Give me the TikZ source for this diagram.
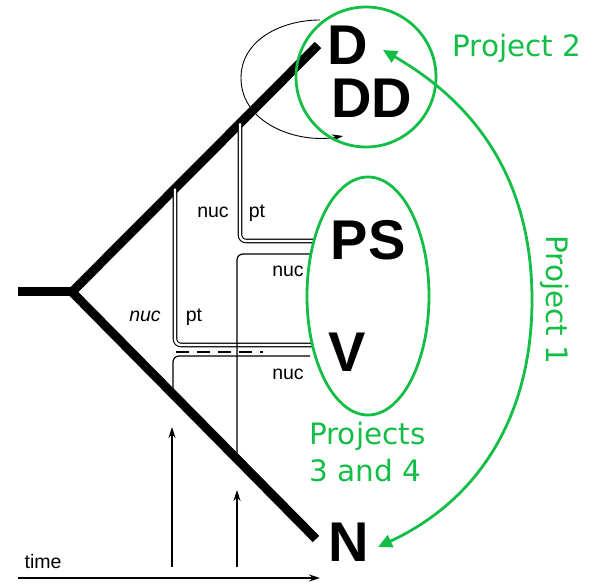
\documentclass[tikz,border=0pt]{standalone}
\usepackage{fontspec}
\setmainfont{Liberation Sans}
\newfontfamily\projfont{DejaVu Sans}
\usetikzlibrary{positioning, arrows.meta, calc}
\definecolor{projgreen}{RGB}{20,190,70}

\begin{document}
\begin{tikzpicture}[x=1pt, y=1pt, >={Stealth[length=11pt, width=7pt]},
    branch/.style={line width=9pt, line join=miter},
    tube/.style={double, double distance=2.4pt, line width=1.1pt, rounded corners=6pt},
    lineage/.style={line width=1.2pt, rounded corners=6pt},
    cell/.style={font=\fontsize{56}{56}\selectfont\bfseries, anchor=base, inner sep=0pt},
    lbl/.style={font=\fontsize{19.5}{20}\selectfont, anchor=base, inner sep=0pt},
    proj/.style={text=projgreen, font=\projfont\fontsize{29.5}{37}\selectfont, inner sep=0pt},
    ring/.style={draw=projgreen, line width=2.8pt}]
  \useasboundingbox (0,0) rectangle (595,587);
  % the two branches
  \coordinate (st) at (18,295);
  \coordinate (root) at (72,295);
  \coordinate (ue) at (318,542);
  \coordinate (le) at (316,48);
  \draw[branch] (st) -- (root);
  \draw[branch] (ue) -- (root) -- (le);
  % lineages
  \coordinate (ta) at (intersection of root--ue and 240,0--240,10);
  \coordinate (tb) at (intersection of root--ue and 175,0--175,10);
  \coordinate (lc) at (intersection of root--le and 173,0--173,10);
  \coordinate (ld) at (intersection of root--le and 237,0--237,10);
  \coordinate (ea) at (313,346);
  \coordinate (eb) at (313,242);
  \coordinate (ec) at (310,231);
  \coordinate (ed) at (310,333);
  \coordinate (da) at (176,235);
  \coordinate (db) at (263,235);
  \draw[tube] (ta) |- (ea);
  \draw[tube] (tb) |- (eb);
  \draw[line width=1.2pt, dash pattern=on 13pt off 8pt] (da) -- (db);
  \draw[lineage] (lc) |- (ec);
  \draw[lineage] (ld) |- (ed);
  \node[lbl] (nuca) at (213,369) {nuc};
  \node[lbl] (pta) at (257,369) {pt};
  \node[lbl] (nucb) at (145,265) {\itshape nuc};
  \node[lbl] (ptb) at (194,265) {pt};
  \node[lbl] (nucc) at (288,310) {nuc};
  \node[lbl] (nucd) at (288,207) {nuc};
  % organisms
  \node[cell] (d) at (348,522) {D};
  \node[cell] (dd) at (372,469) {DD};
  \node[cell] (ps) at (368,327) {PS};
  \node[cell] (v) at (347,215) {V};
  \node[cell] (n) at (349,25) {N};
  % self loop at D
  \coordinate (la) at (320,567);
  \coordinate (lb) at (241,509);
  \coordinate (lz) at (343,451);
  \draw[->, line width=0.9pt] (la) to[out=180, in=90] (lb) to[out=-90, in=190] (lz);
  % time
  \coordinate (t0) at (18,9);
  \coordinate (t1) at (320,9);
  \coordinate (ua) at (172,20);
  \coordinate (ub) at (172,160);
  \coordinate (va) at (237,20);
  \coordinate (vb) at (237,97);
  \draw[->, line width=1.3pt] (t0) -- (t1);
  \draw[->, line width=1.2pt] (ua) -- (ub);
  \draw[->, line width=1.2pt] (va) -- (vb);
  \node[lbl] (time) at (43,19) {time};
  % projects
  \draw[ring] (366,510) circle[radius=70];
  \draw[ring] (368,291) ellipse[x radius=61, y radius=119];
  \coordinate (pa) at (383,537);
  \coordinate (pm) at (532,287);
  \coordinate (pb) at (378,40);
  \draw[ring, {Triangle[length=14pt, width=13pt]}-{Triangle[length=14pt, width=13pt]}]
    (pa) to[out=-30, in=90] (pm) to[out=-90, in=25] (pb);
  \node[proj, anchor=base] (p2) at (517,530) {Project 2};
  \node[proj, anchor=base, rotate=-90] (p1) at (546,287) {Project 1};
  \node[proj, anchor=base west, align=left] (p34) at (309,105) {Projects\\3 and 4};
\end{tikzpicture}
\end{document}
